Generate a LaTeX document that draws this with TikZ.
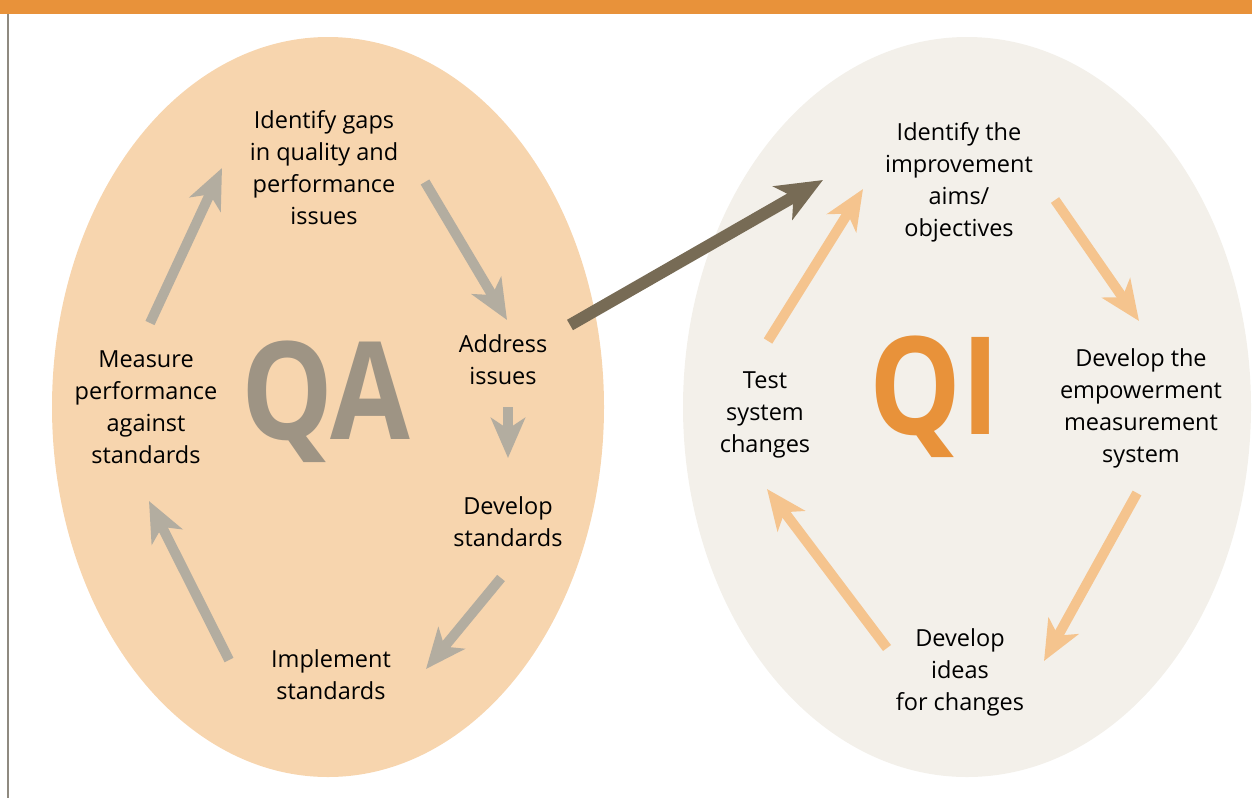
\documentclass[tikz,border=0pt]{standalone}
\usepackage{fontspec}
\setmainfont{Open Sans}
\usetikzlibrary{arrows.meta}
\definecolor{qafill}{HTML}{F7D5AE}
\definecolor{qifill}{HTML}{F3F0EA}
\definecolor{qagray}{HTML}{B3ADA0}
\definecolor{qadark}{HTML}{776B55}
\definecolor{qiorange}{HTML}{F5C48E}
\definecolor{topbar}{HTML}{E8923A}
\definecolor{bigqa}{HTML}{9E9484}
\tikzset{
  steptext/.style={align=center, font=\fontsize{23.5}{32}\selectfont, text=black},
  bigletters/.style={font=\fontsize{136}{136}\selectfont\bfseries, xscale=0.85, transform shape},
  qaarrow/.style={line width=10pt, color=qagray, -{Stealth[length=40pt, width=34pt, inset=11pt]}},
  qiarrow/.style={line width=10pt, color=qiorange, -{Stealth[length=40pt, width=34pt, inset=11pt]}},
  linkarrow/.style={line width=12pt, color=qadark, -{Stealth[length=46pt, width=38pt, inset=12pt]}}
}
\begin{document}
\begin{tikzpicture}[x=1pt, y=-1pt]

\useasboundingbox (0,0) rectangle (1252,798);

%% frame
\fill[topbar] (0,0) rectangle (1252,14);
\fill[qagray!80!black] (7,14) rectangle (9,798);

%% the two ovals
\fill[qafill] (328,407) ellipse (276 and 370);
\fill[qifill] (967,407) ellipse (284 and 370);

%% QA side
\node[bigletters, text=bigqa] (qa) at (326,402) {QA};
\node[steptext] (gaps) at (324,168) {Identify gaps\\in quality and\\performance\\issues};
\node[steptext] (address) at (503,360) {Address\\issues};
\node[steptext] (develop) at (508,522) {Develop\\standards};
\node[steptext] (implement) at (331,675) {Implement\\standards};
\node[steptext] (measure) at (146,407) {Measure\\performance\\against\\standards};

\coordinate (qa1s) at (150,323);  \coordinate (qa1e) at (222,168);
\coordinate (qa2s) at (425,182);  \coordinate (qa2e) at (507,320);
\coordinate (qa3s) at (508,407);  \coordinate (qa3e) at (508,458);
\coordinate (qa4s) at (501,578);  \coordinate (qa4e) at (426,669);
\coordinate (qa5s) at (229,660);  \coordinate (qa5e) at (149,501);

\draw[qaarrow] (qa1s) -- (qa1e);
\draw[qaarrow] (qa2s) -- (qa2e);
\draw[qaarrow] (qa3s) -- (qa3e);
\draw[qaarrow] (qa4s) -- (qa4e);
\draw[qaarrow] (qa5s) -- (qa5e);

%% QI side
\node[bigletters, text=topbar] (qi) at (935,397) {QI};
\node[steptext] (aims) at (959,182) {Identify the\\improvement\\aims/\\objectives};
\node[steptext] (system) at (1141,408) {Develop the\\empowerment\\measurement\\system};
\node[steptext] (ideas) at (960,672) {Develop\\ideas\\for changes};
\node[steptext] (test) at (765,415) {Test\\system\\changes};

\coordinate (qi1s) at (768,341);  \coordinate (qi1e) at (863,189);
\coordinate (qi2s) at (1055,200); \coordinate (qi2e) at (1139,321);
\coordinate (qi3s) at (1137,493); \coordinate (qi3e) at (1044,661);
\coordinate (qi4s) at (887,648);  \coordinate (qi4e) at (767,489);

\draw[qiarrow] (qi1s) -- (qi1e);
\draw[qiarrow] (qi2s) -- (qi2e);
\draw[qiarrow] (qi3s) -- (qi3e);
\draw[qiarrow] (qi4s) -- (qi4e);

%% from QA to QI
\coordinate (links) at (570,325);
\coordinate (linke) at (823,180);
\draw[linkarrow] (links) -- (linke);

\end{tikzpicture}
\end{document}
